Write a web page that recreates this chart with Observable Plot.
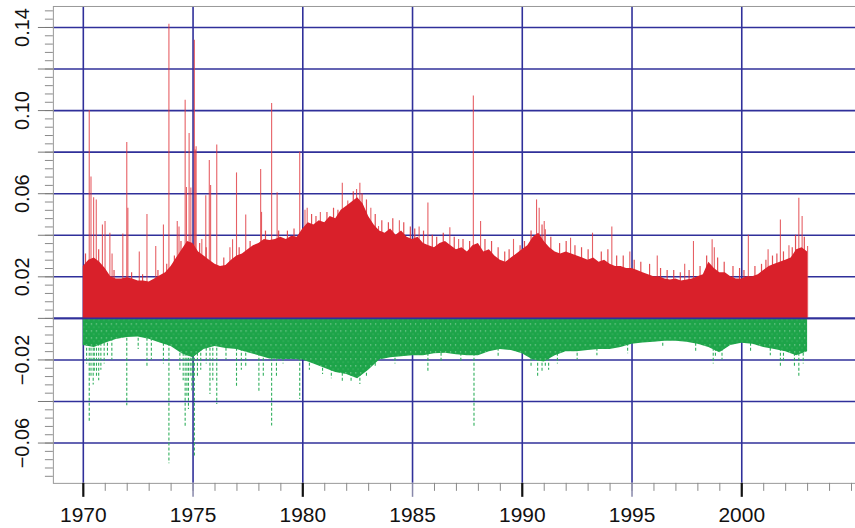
<!DOCTYPE html>
<html>
<head>
<meta charset="utf-8">
<script src="https://cdn.jsdelivr.net/npm/d3@7"></script>
<script src="https://cdn.jsdelivr.net/npm/@observablehq/plot@0.6"></script>
<style>
html,body{margin:0;padding:0;overflow:hidden;background:#fff}
</style>
</head>
<body>
<div id="chart"></div>
<script>
// ---- tick labels / grid ----
const xLabels = [1970, 1975, 1980, 1985, 1990, 1995, 2000];
const xDecadeTicks = [1970, 1980, 1990, 2000];
const xHalfDecadeTicks = [1975, 1985, 1995];
const yLabels = [0.14, 0.10, 0.06, 0.02, -0.02, -0.06];
const yGridValues = [0.14, 0.12, 0.10, 0.08, 0.06, 0.04, 0.02, 0, -0.02, -0.04, -0.06];

// ---- positive part (red): dense envelope, [year, value] ----
const redEnvelope = [
  [1970.00,0.025],[1970.25,0.028],[1970.50,0.029],[1970.75,0.027],
  [1971.00,0.024],[1971.25,0.020],[1971.50,0.019],[1971.75,0.019],
  [1972.00,0.0195],[1972.25,0.019],[1972.50,0.018],[1972.75,0.018],
  [1973.00,0.0175],[1973.25,0.019],[1973.50,0.0205],[1973.75,0.022],
  [1974.00,0.025],[1974.25,0.029],[1974.50,0.033],[1974.75,0.037],
  [1975.00,0.036],[1975.25,0.032],[1975.50,0.030],[1975.75,0.028],
  [1976.00,0.026],[1976.25,0.025],[1976.50,0.0255],[1976.75,0.028],
  [1977.00,0.030],[1977.25,0.031],[1977.50,0.033],[1977.75,0.035],
  [1978.00,0.036],[1978.25,0.038],[1978.50,0.0375],[1978.75,0.038],
  [1979.00,0.039],[1979.25,0.038],[1979.50,0.0395],[1979.75,0.039],
  [1980.00,0.043],[1980.25,0.046],[1980.50,0.045],[1980.75,0.047],
  [1981.00,0.046],[1981.25,0.049],[1981.50,0.048],[1981.75,0.052],
  [1982.00,0.054],[1982.25,0.056],[1982.50,0.058],[1982.75,0.055],
  [1983.00,0.049],[1983.25,0.045],[1983.50,0.042],[1983.75,0.041],
  [1984.00,0.043],[1984.25,0.040],[1984.50,0.042],[1984.75,0.039],
  [1985.00,0.038],[1985.25,0.039],[1985.50,0.036],[1985.75,0.035],
  [1986.00,0.034],[1986.25,0.036],[1986.50,0.037],[1986.75,0.035],
  [1987.00,0.033],[1987.25,0.034],[1987.50,0.032],[1987.75,0.035],
  [1988.00,0.036],[1988.25,0.032],[1988.50,0.033],[1988.75,0.030],
  [1989.00,0.028],[1989.25,0.027],[1989.50,0.029],[1989.75,0.031],
  [1990.00,0.033],[1990.25,0.035],[1990.50,0.039],[1990.75,0.041],
  [1991.00,0.037],[1991.25,0.034],[1991.50,0.032],[1991.75,0.031],
  [1992.00,0.032],[1992.25,0.031],[1992.50,0.030],[1992.75,0.029],
  [1993.00,0.028],[1993.25,0.029],[1993.50,0.027],[1993.75,0.028],
  [1994.00,0.026],[1994.25,0.025],[1994.50,0.025],[1994.75,0.024],
  [1995.00,0.024],[1995.25,0.023],[1995.50,0.022],[1995.75,0.021],
  [1996.00,0.020],[1996.25,0.020],[1996.50,0.019],[1996.75,0.0185],
  [1997.00,0.019],[1997.25,0.018],[1997.50,0.0185],[1997.75,0.019],
  [1998.00,0.020],[1998.25,0.021],[1998.50,0.027],[1998.75,0.024],
  [1999.00,0.022],[1999.25,0.022],[1999.50,0.020],[1999.75,0.019],
  [2000.00,0.019],[2000.25,0.020],[2000.50,0.020],[2000.75,0.021],
  [2001.00,0.023],[2001.25,0.025],[2001.50,0.026],[2001.75,0.027],
  [2002.00,0.028],[2002.25,0.029],[2002.50,0.033],[2002.75,0.034],
  [2003.00,0.032]
];

// ---- large positive spikes ----
const redSpikes = [
  [1970.27,0.100],[1970.35,0.068],[1970.47,0.058],[1970.59,0.057],[1970.87,0.045],
  [1970.99,0.0466],[1971.21,0.041],[1971.31,0.031],[1971.80,0.0406],[1971.98,0.0847],
  [1972.03,0.053],[1972.55,0.032],[1972.90,0.050],[1973.30,0.0346],[1973.65,0.045],
  [1973.90,0.1415],[1974.28,0.0466],[1974.36,0.044],[1974.64,0.105],[1974.70,0.063],
  [1974.82,0.089],[1974.90,0.0627],[1975.06,0.1338],[1975.10,0.081],[1975.14,0.0826],
  [1975.40,0.038],[1975.58,0.059],[1975.74,0.076],[1975.80,0.064],[1976.08,0.0834],
  [1976.68,0.034],[1976.80,0.0378],[1976.98,0.070],[1977.40,0.0498],[1978.08,0.0717],
  [1978.12,0.051],[1978.58,0.1034],[1978.83,0.0605],[1979.86,0.080],[1980.10,0.052],
  [1980.20,0.053],[1980.80,0.051],[1981.80,0.065],[1982.05,0.0565],[1982.45,0.062],
  [1982.60,0.065],[1983.10,0.053],[1983.45,0.0442],[1984.40,0.047],[1985.30,0.044],
  [1985.70,0.0555],[1986.70,0.0436],[1987.10,0.038],[1987.77,0.107],[1988.10,0.0466],
  [1989.60,0.038],[1990.65,0.057],[1990.77,0.053],[1991.00,0.0466],[1991.05,0.0426],
  [1992.20,0.0386],[1993.20,0.041],[1994.08,0.044],[1994.90,0.032],[1996.15,0.030],
  [1997.40,0.026],[1997.80,0.037],[1998.65,0.0378],[1998.75,0.034],[2000.30,0.040],
  [2001.20,0.033],[2001.76,0.0474],[2002.15,0.035],[2002.60,0.0578],[2002.75,0.049],
  [2003.00,0.0346]
];

// ---- small positive spikes (ragged top of the dense part) ----
const redSmallSpikes = [
  [1970.10,0.031],[1970.70,0.033],[1971.40,0.023],[1972.20,0.022],[1972.70,0.021],
  [1973.40,0.023],[1973.80,0.026],[1974.15,0.030],[1974.45,0.037],[1975.30,0.036],
  [1975.60,0.034],[1976.40,0.029],[1977.10,0.034],[1977.60,0.037],[1978.30,0.042],
  [1978.90,0.042],[1979.30,0.042],[1979.60,0.043],[1980.40,0.050],[1980.60,0.049],
  [1981.10,0.051],[1981.40,0.053],[1981.60,0.052],[1982.30,0.061],[1982.70,0.060],
  [1982.90,0.057],[1983.30,0.050],[1983.60,0.047],[1983.90,0.046],[1984.10,0.048],
  [1984.60,0.046],[1984.90,0.044],[1985.10,0.043],[1985.50,0.042],[1985.90,0.040],
  [1986.10,0.039],[1986.40,0.041],[1986.90,0.039],[1987.30,0.038],[1987.60,0.037],
  [1988.30,0.038],[1988.60,0.037],[1988.90,0.034],[1989.20,0.032],[1989.40,0.033],
  [1989.90,0.035],[1990.10,0.037],[1990.40,0.042],[1990.90,0.045],[1991.30,0.039],
  [1991.70,0.036],[1992.00,0.037],[1992.40,0.035],[1992.70,0.034],[1993.00,0.033],
  [1993.60,0.032],[1993.90,0.033],[1994.30,0.030],[1994.60,0.030],[1995.10,0.028],
  [1995.40,0.027],[1995.80,0.026],[1996.30,0.024],[1996.60,0.023],[1996.90,0.023],
  [1997.20,0.022],[1997.60,0.023],[1998.10,0.025],[1998.40,0.030],[1998.90,0.029],
  [1999.20,0.027],[1999.60,0.025],[1999.90,0.024],[2000.10,0.023],[2000.60,0.025],
  [2000.90,0.026],[2001.10,0.028],[2001.40,0.030],[2001.60,0.031],[2001.90,0.032],
  [2002.30,0.034],[2002.45,0.040],[2002.85,0.039]
];

// ---- negative part (green): dense envelope ----
const greenEnvelope = [
  [1970.0,-0.013],[1970.5,-0.014],[1971.0,-0.012],[1971.5,-0.0102],[1972.0,-0.0092],
  [1972.5,-0.009],[1973.0,-0.010],[1973.5,-0.0118],[1974.0,-0.0135],[1974.5,-0.017],
  [1975.0,-0.019],[1975.5,-0.015],[1976.0,-0.0135],[1976.5,-0.0145],[1977.0,-0.015],
  [1977.5,-0.0165],[1978.0,-0.018],[1978.5,-0.0195],[1979.0,-0.0198],[1979.5,-0.0198],
  [1980.0,-0.020],[1980.5,-0.022],[1981.0,-0.024],[1981.5,-0.026],[1982.0,-0.027],
  [1982.5,-0.029],[1983.0,-0.025],[1983.5,-0.020],[1984.0,-0.019],[1984.5,-0.0185],
  [1985.0,-0.018],[1985.5,-0.018],[1986.0,-0.017],[1986.5,-0.0168],[1987.0,-0.0175],
  [1987.5,-0.018],[1988.0,-0.018],[1988.5,-0.016],[1989.0,-0.015],[1989.5,-0.0155],
  [1990.0,-0.017],[1990.5,-0.020],[1991.0,-0.021],[1991.5,-0.018],[1992.0,-0.016],
  [1992.5,-0.016],[1993.0,-0.0155],[1993.5,-0.015],[1994.0,-0.015],[1994.5,-0.014],
  [1995.0,-0.0125],[1995.5,-0.0118],[1996.0,-0.0115],[1996.5,-0.011],[1997.0,-0.011],
  [1997.5,-0.0115],[1998.0,-0.0125],[1998.5,-0.014],[1999.0,-0.0165],[1999.5,-0.013],
  [2000.0,-0.012],[2000.5,-0.0125],[2001.0,-0.014],[2001.5,-0.015],[2002.0,-0.016],
  [2002.5,-0.018],[2003.0,-0.016]
];

// ---- negative spikes ----
const greenSpikes = [
  [1970.27,-0.050],[1970.35,-0.028],[1970.60,-0.028],[1970.95,-0.022],[1971.98,-0.042],
  [1972.90,-0.024],[1973.65,-0.022],[1973.90,-0.070],[1974.64,-0.0526],[1974.79,-0.0438],
  [1974.95,-0.035],[1975.06,-0.0662],[1975.77,-0.0366],[1976.08,-0.0414],[1976.98,-0.0334],
  [1977.40,-0.024],[1978.00,-0.0358],[1978.58,-0.0518],[1978.80,-0.0285],[1979.86,-0.039],
  [1981.80,-0.031],[1982.60,-0.0318],[1985.70,-0.026],[1987.80,-0.0526],[1990.70,-0.0286],
  [1991.05,-0.024],[1998.80,-0.019],[2001.76,-0.024],[2002.60,-0.0286]
];

// ---- small negative spikes (ragged bottom of the dense part) ----
const greenSmallSpikes = [
  [1970.15,-0.022],[1970.45,-0.032],[1970.50,-0.026],[1970.70,-0.030],[1970.80,-0.025],
  [1971.10,-0.018],[1971.30,-0.020],[1972.50,-0.015],[1973.10,-0.020],[1974.40,-0.025],
  [1974.55,-0.030],[1974.72,-0.038],[1974.87,-0.028],[1975.00,-0.030],[1975.20,-0.028],
  [1975.35,-0.025],[1975.60,-0.022],[1975.90,-0.030],[1976.50,-0.020],[1977.20,-0.025],
  [1978.20,-0.028],[1979.10,-0.022],[1980.30,-0.025],[1980.90,-0.027],[1981.30,-0.029],
  [1982.20,-0.031],[1982.90,-0.028],[1983.30,-0.024],[1984.20,-0.022],[1986.30,-0.021],
  [1987.20,-0.021],[1988.90,-0.019],[1990.40,-0.024],[1990.90,-0.026],[1991.20,-0.025],
  [1991.60,-0.022],[1992.50,-0.020],[1993.40,-0.018],[1994.80,-0.017],[1996.40,-0.014],
  [1997.90,-0.016],[1998.70,-0.022],[1999.10,-0.020],[2000.40,-0.016],[2001.30,-0.018],
  [2001.90,-0.021],[2002.40,-0.024],[2002.80,-0.022]
];

const gridColor = "#30309a";
const redFill = "#d9202a";
const axisGray = "#8a8a8a";

const xMinorTicks = d3.range(1970, 2006, 1);
const yMinorTicks = d3.range(-76, 149, 4).map(v => v / 1000);

const spikeStyle = {x: d => d[0], y1: 0, y2: d => d[1]};

const chart = Plot.plot({
  width: 857,
  height: 528,
  marginLeft: 53,
  marginRight: 0,
  marginTop: 6,
  marginBottom: 44,
  x: {domain: [1968.636, 2005.182]},
  y: {domain: [-0.0794, 0.1501]},
  style: {fontFamily: "'Liberation Sans', Arial, Helvetica, sans-serif", color: "#111", background: "#fff", overflow: "visible"},
  marks: [
    Plot.ruleX(xLabels, {stroke: gridColor, strokeWidth: 1.6}),
    Plot.ruleY(yGridValues, {stroke: gridColor, strokeWidth: 1.6}),
    Plot.ruleX(redSmallSpikes, {...spikeStyle, stroke: "#dd3036", strokeWidth: 1.2, strokeOpacity: 0.85}),
    Plot.ruleX(redSpikes, {...spikeStyle, stroke: "#e0383e", strokeWidth: 1.1, strokeOpacity: 0.8}),
    Plot.areaY(redEnvelope, {x: d => d[0], y: d => d[1], fill: redFill}),
    Plot.ruleX(greenSmallSpikes, {...spikeStyle, stroke: "#2faf5c", strokeWidth: 1.1, strokeDasharray: "3,2"}),
    Plot.ruleX(greenSpikes, {...spikeStyle, stroke: "#2faf5c", strokeWidth: 1.1, strokeDasharray: "3,2"}),
    Plot.areaY(greenEnvelope, {x: d => d[0], y: d => d[1], fill: "url(#greenDots)"}),
    Plot.ruleY([0], {stroke: gridColor, strokeWidth: 1.6}),
    Plot.frame({stroke: "#999", strokeWidth: 1}),
    // x axis ticks
    Plot.axisX({ticks: xMinorTicks, tickSize: 8, tickFormat: () => "", stroke: axisGray}),
    Plot.axisX({ticks: xHalfDecadeTicks, tickSize: 14, tickFormat: () => "", stroke: "#8888aa", strokeWidth: 1.5}),
    Plot.axisX({ticks: xDecadeTicks, tickSize: 14, tickFormat: () => "", stroke: "#111", strokeWidth: 2.2}),
    Plot.axisX({ticks: xLabels, tickSize: 0, tickPadding: 23.5, fontSize: 21, fill: "#111", tickFormat: d => String(d)}),
    // y axis ticks
    Plot.axisY({ticks: yMinorTicks, tickSize: 8, tickFormat: () => "", stroke: axisGray}),
    Plot.axisY({ticks: yGridValues, tickSize: 15, tickFormat: () => "", stroke: "#777"}),
    Plot.axisY({ticks: yLabels, tickSize: 0, tickPadding: 24.5, tickRotate: -90, fontSize: 20, fill: "#111", tickFormat: d3.format(".2f")})
  ]
});

// dotted green texture for the dense negative part
const defs = d3.select(chart).insert("defs", ":first-child");
const pat = defs.append("pattern")
  .attr("id", "greenDots").attr("patternUnits", "userSpaceOnUse")
  .attr("width", 5).attr("height", 7);
pat.append("rect").attr("width", 5).attr("height", 7).attr("fill", "#1da449");
pat.append("rect").attr("x", 1).attr("y", 2).attr("width", 1.2).attr("height", 1.5).attr("fill", "#ffffff").attr("opacity", 0.4);
pat.append("rect").attr("x", 3.5).attr("y", 5.5).attr("width", 1).attr("height", 1).attr("fill", "#ffffff").attr("opacity", 0.25);

document.getElementById("chart").appendChild(chart);
</script>
</body>
</html>
